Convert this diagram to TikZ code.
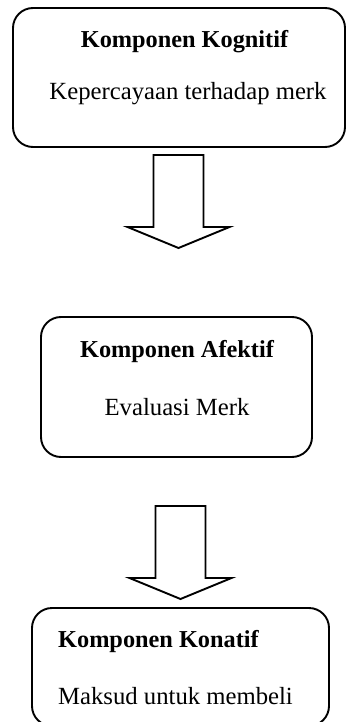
\documentclass[tikz,border=0pt]{standalone}
\usepackage{fontspec}
\setmainfont{Liberation Serif}
\begin{document}
\begin{tikzpicture}[x=1pt,y=-1pt,
  comp/.style={draw=black, line width=1.9pt, rounded corners=20pt, rectangle, inner sep=0pt},
  title/.style={font=\fontsize{24.3}{28}\selectfont\bfseries, anchor=base, inner sep=0pt},
  body/.style={font=\fontsize{24.7}{28}\selectfont, anchor=base, inner sep=0pt},
  flow/.style={draw=black, line width=1.9pt, fill=white, line join=miter}]
\useasboundingbox (0,0) rectangle (345,722);

% component boxes
\node[comp, minimum width=332pt, minimum height=139pt] (kog) at (179,77.5) {};
\node[comp, minimum width=271pt, minimum height=140pt] (afe) at (176.5,387) {};
\node[comp, minimum width=297pt, minimum height=118pt] (kon) at (180.5,667) {};

% texts
\node[title] (kogT) at (184.5,48) {Komponen Kognitif};
\node[body]  (kogB) at (188,100) {Kepercayaan terhadap merk};
\node[title] (afeT) at (177,357) {Komponen Afektif};
\node[body]  (afeB) at (177,415) {Evaluasi Merk};
\node[title, anchor=base west] (konT) at (58,647) {Komponen Konatif};
\node[body, anchor=base west]  (konB) at (58,704) {Maksud untuk membeli};

% block arrows between the components
\coordinate (a1) at (178.5,155);
\coordinate (a2) at (180.5,506);
\foreach \c in {a1,a2}{
  \draw[flow] ([xshift=-25pt]\c) -- ([xshift=25pt]\c)
    -- ([xshift=25pt,yshift=-72pt]\c) -- ([xshift=51pt,yshift=-72pt]\c)
    -- ([yshift=-93pt]\c) -- ([xshift=-51pt,yshift=-72pt]\c)
    -- ([xshift=-25pt,yshift=-72pt]\c) -- cycle;
}
\end{tikzpicture}
\end{document}
